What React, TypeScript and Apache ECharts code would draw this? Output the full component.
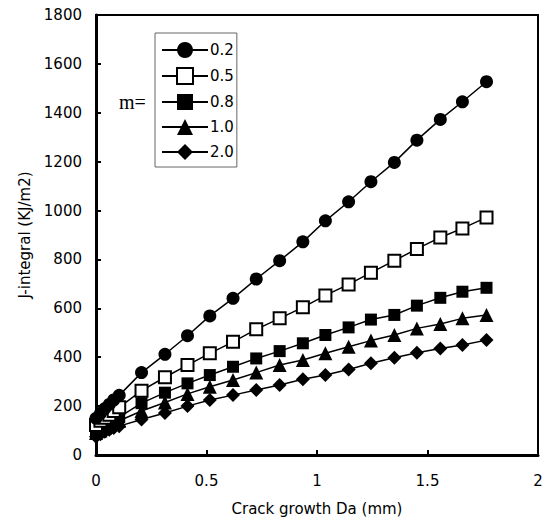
import React, { useEffect, useRef } from "react";
import * as echarts from "echarts";

const seriesNames = ["0.2", "0.5", "0.8", "1.0", "2.0"];
const crackGrowth = [0, 0.02, 0.04, 0.06, 0.08, 0.105, 0.206, 0.312, 0.414, 0.515, 0.62, 0.725, 0.831, 0.936, 1.038, 1.143, 1.244, 1.35, 1.452, 1.558, 1.658, 1.767];
const jM02 = [150, 170, 190, 207, 225, 244, 337, 412, 488, 569, 641, 720, 795, 872, 958, 1036, 1118, 1197, 1288, 1373, 1445, 1527];
const jM05 = [123, 140, 152, 165, 180, 195, 263, 318, 368, 416, 463, 514, 559, 604, 653, 698, 746, 795, 843, 890, 927, 972];
const jM08 = [100, 112, 123, 133, 145, 155, 212, 255, 293, 327, 361, 395, 425, 457, 491, 522, 554, 573, 611, 643, 668, 684];
const jM10 = [90, 100, 110, 120, 130, 140, 180, 215, 250, 279, 307, 337, 368, 389, 416, 443, 468, 491, 518, 536, 559, 573];
const jM20 = [75, 85, 95, 103, 110, 118, 145, 172, 200, 225, 245, 266, 286, 310, 327, 350, 375, 398, 418, 436, 450, 470];
const symbols = ["circle", "emptyRect", "rect", "triangle", "diamond"];
const symbolSizes = [13, 12, 12, 14, 14];

const FONT = "DejaVu Sans";

export default function App() {
  const ref = useRef<HTMLDivElement>(null);
  useEffect(() => {
    if (!ref.current) return;
    const chart = echarts.init(ref.current, null, { renderer: "svg" });
    const allValues = [jM02, jM05, jM08, jM10, jM20];
    const series = allValues.map((vals, i) => ({
      name: seriesNames[i],
      type: "line",
      data: crackGrowth.map((x, k) => [x, vals[k]]),
      symbol: symbols[i],
      symbolSize: symbolSizes[i],
      showAllSymbol: true,
      lineStyle: { color: "#000", width: 1.5 },
      itemStyle: { color: "#000", borderColor: "#000", borderWidth: i === 1 ? 1.5 : 0 },
      z: 5 - i,
    }));
    chart.setOption({
      animation: false,
      backgroundColor: "#fff",
      grid: {
        left: 96,
        right: 13,
        top: 15,
        bottom: 67,
        show: true,
        borderColor: "#000",
        borderWidth: 2,
        backgroundColor: "transparent",
      },
      xAxis: {
        type: "value",
        min: 0,
        max: 2,
        interval: 0.5,
        name: "Crack growth Da (mm)",
        nameLocation: "middle",
        nameGap: 46,
        nameTextStyle: { fontFamily: FONT, fontSize: 15, color: "#000" },
        axisLine: { lineStyle: { color: "#000", width: 3 } },
        axisTick: { inside: true, length: 5, lineStyle: { color: "#000", width: 2 } },
        axisLabel: { fontFamily: FONT, fontSize: 15, color: "#000", margin: 18 },
        splitLine: { show: false },
      },
      yAxis: {
        type: "value",
        min: 0,
        max: 1800,
        interval: 200,
        name: "J-integral (KJ/m2)",
        nameLocation: "middle",
        nameGap: 64,
        nameTextStyle: { fontFamily: FONT, fontSize: 15, color: "#000" },
        axisLine: { lineStyle: { color: "#000", width: 3 } },
        axisTick: { inside: true, length: 5, lineStyle: { color: "#000", width: 2 } },
        axisLabel: {
          fontFamily: FONT,
          fontSize: 15,
          color: "#000",
          margin: 14,
          formatter: (v: number) => String(v),
        },
        splitLine: { show: false },
      },
      legend: {
        data: seriesNames,
        orient: "vertical",
        left: 155,
        top: 33,
        itemWidth: 46,
        itemHeight: 20,
        itemGap: 9,
        padding: [9, 3, 7, 6],
        borderColor: "#666",
        borderWidth: 1,
        textStyle: { fontFamily: FONT, fontSize: 15, color: "#000", padding: [0, 0, 0, -3] },
      },
      graphic: [
        {
          type: "text",
          left: 119,
          top: 92,
          style: { text: "m=", font: "20px 'Liberation Serif'", fill: "#000" },
        },
      ],
      series,
    });
    return () => chart.dispose();
  }, []);
  return (
    <div
      ref={ref}
      style={{ position: "fixed", left: 0, top: 0, width: 551, height: 522, background: "#fff" }}
    />
  );
}
